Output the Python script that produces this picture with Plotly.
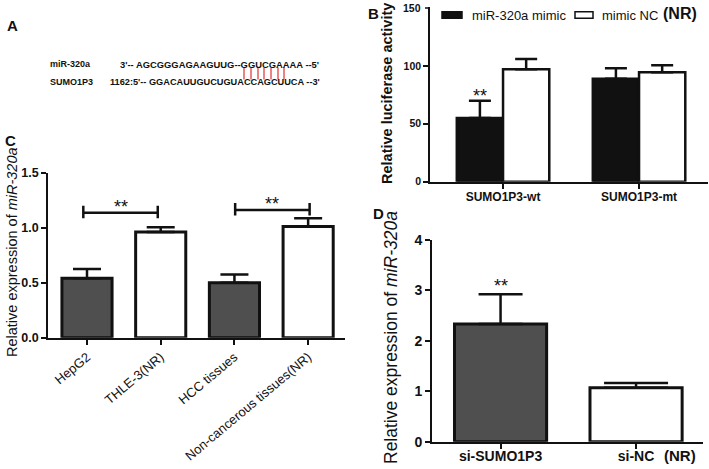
import plotly.graph_objects as go

W, H = 709, 469
FONT = "Liberation Sans, Arial, sans-serif"

# ---------------- data ----------------
# Panel A (sequence alignment)
a_names = ["miR-320a", "SUMO1P3"]
a_seqs = ["3'-- AGCGGGAGAAGUUG--GGUCGAAAA --5'",
          "1162:5'-- GGACAUUGUCUGUACCAGCUUCA --3'"]
a_pair_px = [244, 251, 258, 264, 271, 278, 284]

# Panel B (luciferase)
b_groups = ["SUMO1P3-wt", "SUMO1P3-mt"]
b_series = ["miR-320a mimic", "mimic NC"]
b_mimic = [55, 89]
b_mimic_err = [15, 9]
b_nc = [97, 94.5]
b_nc_err = [9, 6]
b_sig = ["**", ""]
b_ticks = [0, 50, 100, 150]

# Panel C
c_cats = ["HepG2", "THLE-3(NR)", "HCC tissues", "Non-cancerous tissues(NR)"]
c_vals = [0.54, 0.96, 0.50, 1.01]
c_err = [0.085, 0.045, 0.075, 0.075]
c_brackets = [(-0.05, 0.96, 1.135), (2.01, 3.02, 1.16)]

# Panel D
d_cats = ["si-SUMO1P3", "si-NC"]
d_vals = [2.33, 1.07]
d_err = [0.59, 0.09]
d_sig = ["**", ""]

GRAY = "#4f4f4f"
BLK = "#111111"


def px(x):
    return x / W


def py(y):
    return 1 - y / H


fig = go.Figure()

# Panel B
fig.add_trace(go.Bar(
    x=b_groups, y=b_mimic, name=b_series[0], xaxis="x", yaxis="y", showlegend=False,
    marker=dict(color=BLK, line=dict(color=BLK, width=2.5)),
    error_y=dict(type="data", array=b_mimic_err, arrayminus=[0] * len(b_mimic_err),
                 symmetric=False, color=BLK, thickness=2.5, width=11),
))
fig.add_trace(go.Bar(
    x=b_groups, y=b_nc, name=b_series[1], xaxis="x", yaxis="y", showlegend=False,
    marker=dict(color="white", line=dict(color=BLK, width=2.5)),
    error_y=dict(type="data", array=b_nc_err, arrayminus=[0] * len(b_nc_err),
                 symmetric=False, color=BLK, thickness=2.5, width=11),
))

# Panel C
fig.add_trace(go.Bar(
    x=c_cats, y=c_vals, xaxis="x2", yaxis="y2", showlegend=False,
    marker=dict(color=[GRAY, "white", GRAY, "white"], line=dict(color=BLK, width=3)),
    error_y=dict(type="data", array=c_err, arrayminus=[0] * len(c_err),
                 symmetric=False, color=BLK, thickness=2.5, width=14),
))

# Panel D (one trace per bar so each error cap keeps its own width)
for cat, val, err, col, capw in zip(d_cats, d_vals, d_err, [GRAY, "white"], [22, 32]):
    fig.add_trace(go.Bar(
        x=[cat], y=[val], xaxis="x3", yaxis="y3", showlegend=False, offsetgroup="d",
        marker=dict(color=col, line=dict(color=BLK, width=3)),
        error_y=dict(type="data", array=[err], arrayminus=[0], symmetric=False,
                     color=BLK, thickness=2.5, width=capw),
    ))

axcommon = dict(showgrid=False, zeroline=False, showline=True, linecolor=BLK,
                linewidth=1.6, ticks="outside", tickcolor=BLK, ticklen=5, tickwidth=1.6,
                automargin=False, ticklabeloverflow="allow")

fig.update_layout(
    template="none",
    width=W, height=H, autosize=False,
    margin=dict(l=0, r=0, t=0, b=0, pad=0),
    paper_bgcolor="white", plot_bgcolor="white",
    font=dict(family=FONT, color=BLK),
    barmode="group", bargap=0.32, bargroupgap=0,
    showlegend=False,
    xaxis=dict(domain=[px(430), px(708)], range=[-0.537, 1.507], anchor="y",
               tickfont=dict(size=12, weight="bold"), ticklabelstandoff=-2, **axcommon),
    yaxis=dict(domain=[py(181.7), py(6.84)], range=[0, 151], anchor="x",
               tickmode="array", tickvals=b_ticks[:-1], ticktext=[str(t) for t in b_ticks[:-1]],
               tickfont=dict(size=10.5, weight="bold"), **axcommon),
    xaxis2=dict(domain=[px(48), px(345)], range=[-0.529, 3.5], anchor="y2",
                tickangle=-40, tickfont=dict(size=13), **axcommon),
    yaxis2=dict(domain=[py(337.7), py(172.7)], range=[0, 1.5], anchor="x2",
                tickvals=[0, 0.5, 1.0, 1.5], tickformat=".1f",
                tickfont=dict(size=12.5, weight="bold"), **axcommon),
    xaxis3=dict(domain=[px(432), px(703)], range=[-0.506, 1.494], anchor="y3",
                tickfont=dict(size=14, weight="bold"), ticklabelstandoff=-4, **axcommon),
    yaxis3=dict(domain=[py(441.7), py(239.7)], range=[0, 4], anchor="x3",
                tickvals=[0, 1, 2, 3, 4], tickfont=dict(size=14, weight="bold"),
                **axcommon),
)

ann = []
shapes = []
# top tick of panel B (label + tick mark placed on the y scale)
ann.append(dict(text=f"<b>{b_ticks[-1]}</b>", x=px(423), y=b_ticks[-1], xref="paper",
                yref="y", showarrow=False, xanchor="right", yanchor="middle",
                font=dict(size=10.5, family=FONT)))
shapes.append(dict(type="line", x0=px(425), x1=px(430), y0=b_ticks[-1], y1=b_ticks[-1],
                   xref="paper", yref="y", line=dict(color=BLK, width=1.6)))

# panel letters
for letter, (lx, ly) in zip("ABCD", [(12, 25), (374, 13), (10, 140), (379, 214)]):
    ann.append(dict(text=f"<b>{letter}</b>", x=px(lx), y=py(ly), xref="paper", yref="paper",
                    showarrow=False, font=dict(size=15, family=FONT), xanchor="center",
                    yanchor="middle"))

# Panel A text
for name, seq, (nx, sx, yy, fs) in zip(a_names, a_seqs,
                                       [(48, 118, 64, 9.4), (48, 108, 82, 9.2)]):
    ann.append(dict(text=f"<b>{name}</b>", x=px(nx), y=py(yy), xref="paper", yref="paper",
                    showarrow=False, xanchor="left", yanchor="middle",
                    font=dict(size=9, family=FONT)))
    ann.append(dict(text=f"<b>{seq}</b>", x=px(sx), y=py(yy), xref="paper", yref="paper",
                    showarrow=False, xanchor="left", yanchor="middle",
                    font=dict(size=fs, family=FONT)))
for xr in a_pair_px:
    shapes.append(dict(type="line", x0=px(xr), x1=px(xr), y0=py(67.5), y1=py(79.5),
                       xref="paper", yref="paper", line=dict(color="#e03030", width=1.2)))

# Panel B legend
for (x0, x1, tx), nm, col in zip([(442, 462, 470), (575, 593, 600)], b_series, [BLK, "white"]):
    shapes.append(dict(type="rect", x0=px(x0), x1=px(x1), y0=py(18.3), y1=py(11.7),
                       xref="paper", yref="paper", fillcolor=col,
                       line=dict(color=BLK, width=1.5)))
    ann.append(dict(text=nm, x=px(tx), y=py(15), xref="paper", yref="paper",
                    showarrow=False, xanchor="left", yanchor="middle",
                    font=dict(size=13, family=FONT)))
ann.append(dict(text="<b>(NR)</b>", x=px(661), y=py(14), xref="paper", yref="paper",
                showarrow=False, xanchor="left", yanchor="middle",
                font=dict(size=16, family=FONT)))

# y-axis titles
ann.append(dict(text="<b>Relative luciferase activity</b>", x=px(387), y=py(94), xref="paper",
                yref="paper", showarrow=False, textangle=-90, font=dict(size=14.5, family=FONT),
                xanchor="center", yanchor="middle"))
ann.append(dict(text="Relative expression of <i>miR-320a</i>", x=px(12), y=py(252),
                xref="paper", yref="paper", showarrow=False, textangle=-90,
                font=dict(size=14.5, family=FONT), xanchor="center", yanchor="middle"))
ann.append(dict(text="Relative expression of <i>miR-320a</i>", x=px(391), y=py(338),
                xref="paper", yref="paper", showarrow=False, textangle=-90,
                font=dict(size=17.5, family=FONT), xanchor="center", yanchor="middle"))

# (NR) after si-NC
ann.append(dict(text="<b>(NR)</b>", x=px(662), y=py(455), xref="paper", yref="paper",
                showarrow=False, xanchor="left", yanchor="middle",
                font=dict(size=15, family=FONT)))

# significance stars
for v, e, s in zip(b_mimic, b_mimic_err, b_sig):
    if s:
        ann.append(dict(text=s, x=-0.17, y=v + e, xref="x", yref="y", showarrow=False,
                        yanchor="bottom", yshift=-7, font=dict(size=18, family=FONT)))
for c, v, e, s in zip(d_cats, d_vals, d_err, d_sig):
    if s:
        ann.append(dict(text=s, x=c, y=v + e, xref="x3", yref="y3", showarrow=False,
                        yanchor="bottom", yshift=-4, font=dict(size=18, family=FONT)))
for x0, x1, yb in c_brackets:
    ann.append(dict(text="**", x=(x0 + x1) / 2, y=yb, xref="x2", yref="y2", showarrow=False,
                    yanchor="bottom", yshift=-6, font=dict(size=18, family=FONT)))
    shapes.append(dict(type="line", x0=x0, x1=x1, y0=yb, y1=yb, xref="x2", yref="y2",
                       line=dict(color=BLK, width=2.5)))
    for xe in (x0, x1):
        shapes.append(dict(type="line", x0=xe, x1=xe, y0=yb - 0.05, y1=yb + 0.065,
                           xref="x2", yref="y2", line=dict(color=BLK, width=2.5)))

fig.update_layout(annotations=ann, shapes=shapes)

fig.write_html("out.html", config={"displayModeBar": False},
               post_script="document.body.style.margin='0';document.body.style.overflow='hidden';")
